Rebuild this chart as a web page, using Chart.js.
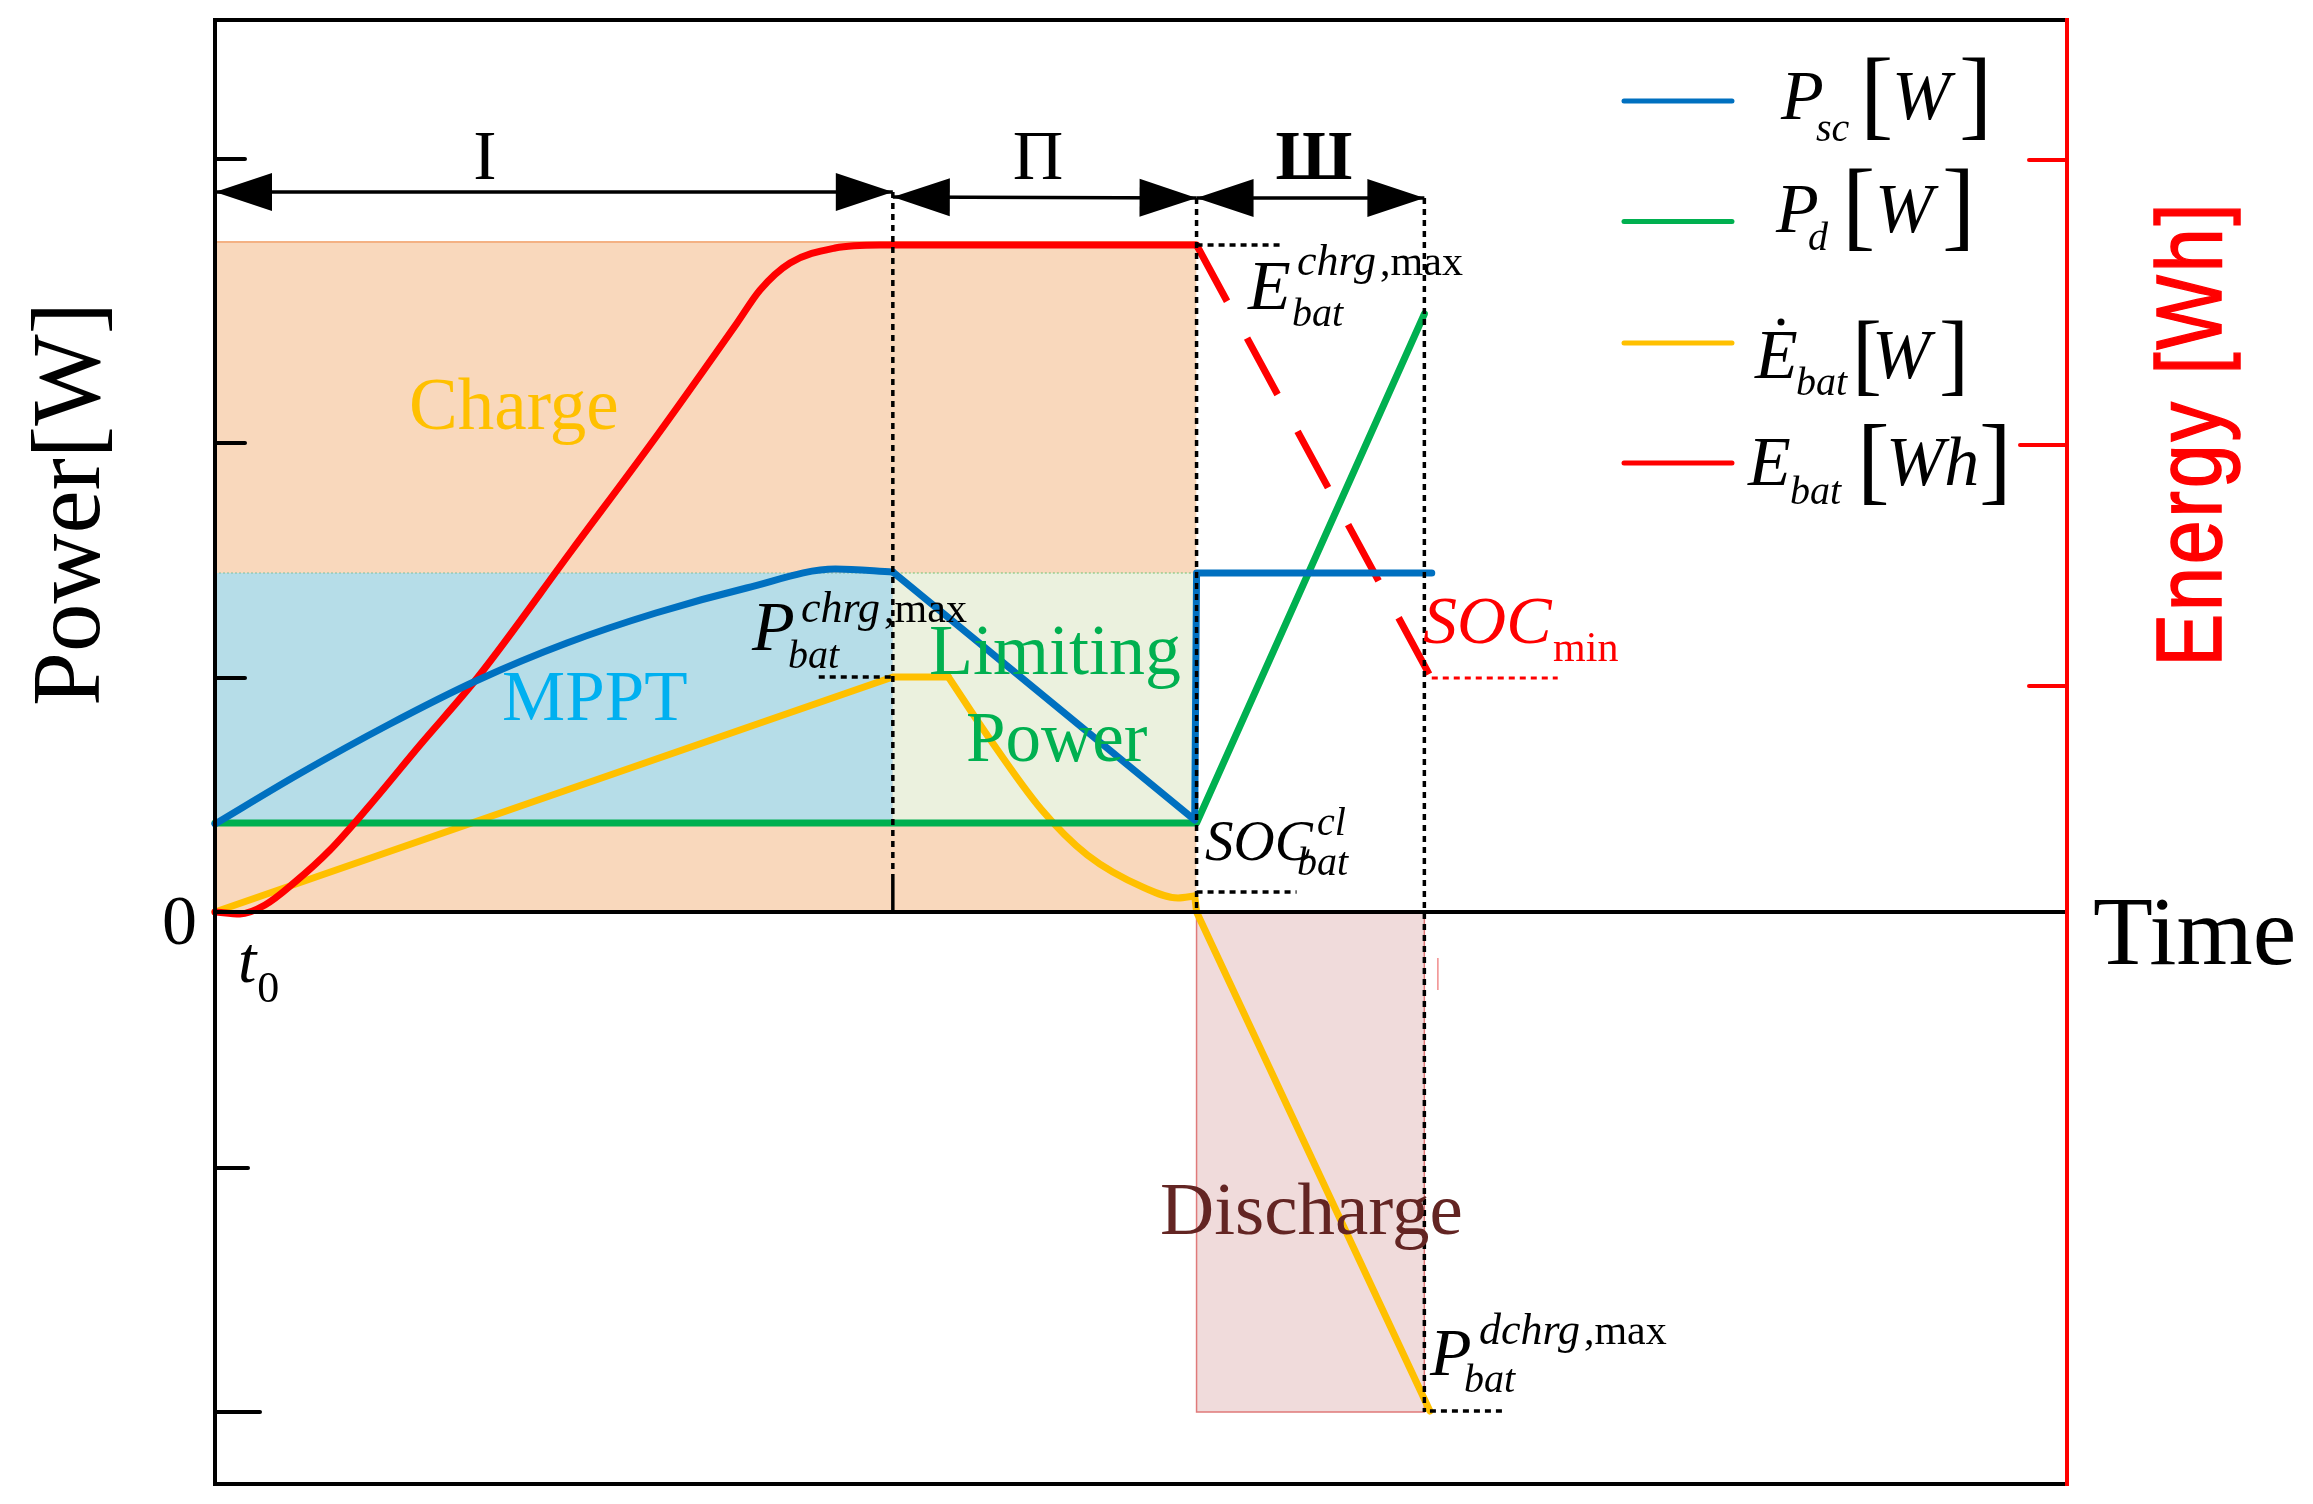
<!DOCTYPE html>
<html>
<head>
<meta charset="utf-8">
<script src="https://cdn.jsdelivr.net/npm/chart.js@4.4.1/dist/chart.umd.min.js"></script>
<style>
  html, body { margin: 0; padding: 0; background: #fff; }
  #wrap { width: 2313px; height: 1504px; }
</style>
</head>
<body>
<div id="wrap"><canvas id="chart" width="2313" height="1504"></canvas></div>
<script>
// time axis in arbitrary units, phase boundaries t0 .. end of III
const phaseEdges = [0, 36.6, 53.0, 65.3];
const phaseNames = ['I', 'Π', 'Ш'];

// E_bat [Wh] charging curve
const ebatX = [0, 1.35, 2.7, 4.32, 6.21, 8.37, 11.07, 14.2, 19.28, 23.81, 28.19, 29.43, 31.05, 33.48, 35.91, 53.0];
const ebatY = [0, -0.02, 0.07, 0.30, 0.62, 1.07, 1.67, 2.35, 3.62, 4.75, 5.89, 6.22, 6.49, 6.64, 6.67, 6.67];
// E_bat discharging (dashed)
const ebatDisX = [53.0, 65.7];
const ebatDisY = [6.67, 2.33];

// P_sc [W]
const pscCurveX = [0, 4.54, 9.34, 14.2, 19.0, 23.8, 28.7, 33.5, 36.6];
const pscCurveY = [0.88, 1.38, 1.87, 2.32, 2.69, 2.99, 3.24, 3.43, 3.40];
const pscLineX = [36.6, 52.9, 53.0, 65.7];
const pscLineY = [3.40, 0.92, 3.39, 3.39];

// P_d [W]
const pdX = [0, 53.0, 65.3];
const pdY = [0.89, 0.89, 5.98];

// dE_bat/dt [W]
const edotX1 = [0, 36.6, 39.6];
const edotY1 = [0, 2.35, 2.35];
const edotX2 = [39.6, 41.8, 44.6, 47.1, 50.2, 52.0, 52.9];
const edotY2 = [2.35, 1.74, 1.03, 0.57, 0.24, 0.14, 0.16];
const edotX3 = [52.9, 53.0, 65.6];
const edotY3 = [0.16, 0, -4.99];

// shaded regions
const chargeTop = 6.70;
const mpptBand = [0.89, 3.39];
const dischargeBottom = -5.0;

// axis ticks (unlabelled except 0)
const leftTicks = [7.53, 4.69, 2.34, 0, -2.56, -5.0];
const leftTickLen = [30, 30, 30, 0, 33, 45];
const rightTicks = [7.52, 4.67, 2.26];

const C = { blue: '#0070c0', green: '#00b050', yellow: '#ffc000', red: '#ff0000' };
const SERIF = '"Liberation Serif", "Times New Roman", serif';

const pts = (xs, ys) => xs.map((v, i) => ({ x: v, y: ys[i] }));

function lineDs(label, xs, ys, color, extra = {}) {
  return Object.assign({
    label, data: pts(xs, ys), borderColor: color, borderWidth: 7,
    pointRadius: 0, fill: false, tension: 0, clip: false, order: 1,
    borderCapStyle: 'round', borderJoinStyle: 'round'
  }, extra);
}

const datasets = [
  // regions
  { data: pts([phaseEdges[0], phaseEdges[2]], [chargeTop, chargeTop]), fill: 'origin',
    backgroundColor: '#f9d8bc', borderColor: '#f4b183', borderWidth: 2, pointRadius: 0, order: 20 },
  { data: pts([phaseEdges[0], phaseEdges[1]], [mpptBand[1], mpptBand[1]]), fill: { value: mpptBand[0] },
    backgroundColor: '#b6dde8', borderColor: '#7fbf9f', borderWidth: 1, borderDash: [2, 2], pointRadius: 0, order: 19 },
  { data: pts([phaseEdges[1], phaseEdges[2]], [mpptBand[1], mpptBand[1]]), fill: { value: mpptBand[0] },
    backgroundColor: '#ebf1de', borderColor: '#70c070', borderWidth: 1, borderDash: [2, 2], pointRadius: 0, order: 18 },
  { data: pts([phaseEdges[2], phaseEdges[2], phaseEdges[3], phaseEdges[3]], [0, dischargeBottom, dischargeBottom, 0]),
    fill: 'origin', backgroundColor: '#f0dbdb', borderColor: '#e07a7a', borderWidth: 1.5, pointRadius: 0, order: 17 },
  // series
  lineDs('E_bat', ebatX, ebatY, C.red, { cubicInterpolationMode: 'monotone', order: 2 }),
  lineDs('E_bat dis', ebatDisX, ebatDisY, C.red, { borderDash: [64, 42], borderCapStyle: 'butt', order: 2 }),
  lineDs('P_d', pdX, pdY, C.green, { order: 3 }),
  lineDs('Edot1', edotX1, edotY1, C.yellow, { order: 4 }),
  lineDs('Edot2', edotX2, edotY2, C.yellow, { cubicInterpolationMode: 'monotone', order: 4 }),
  lineDs('Edot3', edotX3, edotY3, C.yellow, { order: 4 }),
  lineDs('P_sc1', pscCurveX, pscCurveY, C.blue, { cubicInterpolationMode: 'monotone', order: 1 }),
  lineDs('P_sc2', pscLineX, pscLineY, C.blue, { order: 1 })
];

function txt(ctx, s, x, y, size, o = {}) {
  ctx.save();
  ctx.font = (o.italic ? 'italic ' : '') + (o.bold ? 'bold ' : '') + size + 'px ' + (o.font || SERIF);
  ctx.fillStyle = o.color || '#000';
  ctx.textAlign = o.align || 'left';
  ctx.textBaseline = 'alphabetic';
  ctx.fillText(s, x, y);
  const w = ctx.measureText(s).width;
  ctx.restore();
  return w;
}

// base symbol with sub/superscript; offsets are measured from the symbol's left edge
function mathLabel(ctx, x, y, m) {
  const color = m.color || '#000';
  txt(ctx, m.base, x, y, m.fs, { italic: true, color });
  if (m.sub) txt(ctx, m.sub, x + m.subX, y + m.subDy, m.subFs, { italic: !m.subUpright, color });
  if (m.sup) {
    const ws = txt(ctx, m.sup, x + m.supX, y + m.supDy, m.supFs, { italic: true, color });
    if (m.tail) txt(ctx, m.tail, x + m.supX + ws + 4, y + m.supDy, m.tailFs, { color });
  }
}

function dotted(ctx, x1, y1, x2, y2, color = '#000', w = 3.5, dash = [6, 5]) {
  ctx.save();
  ctx.strokeStyle = color; ctx.lineWidth = w; ctx.setLineDash(dash);
  ctx.beginPath(); ctx.moveTo(x1, y1); ctx.lineTo(x2, y2); ctx.stroke();
  ctx.restore();
}

function dblArrow(ctx, x1, y1, x2, y2) {
  const len = 57, hw = 19;
  const ang = Math.atan2(y2 - y1, x2 - x1);
  ctx.save();
  ctx.strokeStyle = '#000'; ctx.fillStyle = '#000'; ctx.lineWidth = 3.5;
  ctx.beginPath(); ctx.moveTo(x1, y1); ctx.lineTo(x2, y2); ctx.stroke();
  [[x1, y1, ang + Math.PI], [x2, y2, ang]].forEach(([tx, ty, a]) => {
    ctx.beginPath();
    ctx.moveTo(tx, ty);
    ctx.lineTo(tx - len * Math.cos(a) - hw * Math.sin(a), ty - len * Math.sin(a) + hw * Math.cos(a));
    ctx.lineTo(tx - len * Math.cos(a) + hw * Math.sin(a), ty - len * Math.sin(a) - hw * Math.cos(a));
    ctx.closePath(); ctx.fill();
  });
  ctx.restore();
}

const legendItems = [
  { y: 8.11, color: C.blue, parts: [['P', 157, 18, 70, 1], ['sc', 192, 40, 40, 1], ['[', 236, 26, 100, 0], ['W', 268, 18, 70, 1], [']', 335, 26, 100, 0]] },
  { y: 6.905, color: C.green, parts: [['P', 152, 10.5, 70, 1], ['d', 184, 28.5, 40, 1], ['[', 218, 16.5, 100, 0], ['W', 251, 10.5, 70, 1], [']', 318, 16.5, 100, 0]] },
  { y: 5.69, color: C.yellow, dot: [157, -21], parts: [['E', 131, 35, 70, 1], ['bat', 172, 52, 40, 1], ['[', 228, 41, 90, 0], ['W', 248, 35, 70, 1], [']', 315, 41, 90, 0]] },
  { y: 4.49, color: C.red, parts: [['E', 124, 22, 70, 1], ['bat', 166, 41, 40, 1], ['[', 233, 29, 98, 0], ['Wh', 262, 22, 70, 1], [']', 355, 29, 98, 0]] }
];
const legendX = [76.08, 81.91];

const overlay = {
  id: 'overlay',
  afterDatasetsDraw(chart) {
    const { ctx, chartArea: a, scales: { x, y } } = chart;
    const X = v => x.getPixelForValue(v), Y = v => y.getPixelForValue(v);
    ctx.save();

    // frame
    ctx.lineCap = 'square';
    ctx.strokeStyle = '#000'; ctx.lineWidth = 4;
    ctx.beginPath();
    ctx.moveTo(a.right, a.top); ctx.lineTo(a.left, a.top); ctx.lineTo(a.left, a.bottom); ctx.lineTo(a.right, a.bottom);
    ctx.stroke();
    ctx.beginPath(); ctx.moveTo(a.left, Y(0)); ctx.lineTo(a.right, Y(0)); ctx.stroke();
    ctx.strokeStyle = C.red; ctx.lineWidth = 4;
    ctx.beginPath(); ctx.moveTo(a.right, a.top); ctx.lineTo(a.right, a.bottom); ctx.stroke();

    // ticks
    ctx.lineCap = 'round';
    ctx.strokeStyle = '#000'; ctx.lineWidth = 4;
    leftTicks.forEach((t, i) => {
      if (!leftTickLen[i]) return;
      ctx.beginPath(); ctx.moveTo(a.left, Y(t)); ctx.lineTo(a.left + leftTickLen[i], Y(t)); ctx.stroke();
    });
    ctx.strokeStyle = C.red;
    rightTicks.forEach((t, i) => {
      const l = i === 1 ? 47 : 38;
      ctx.beginPath(); ctx.moveTo(a.right, Y(t)); ctx.lineTo(a.right - l, Y(t)); ctx.stroke();
    });
    ctx.restore();

    // phase guides and arrows
    const arrowY = [7.2, 7.15, 7.14];
    const arrowY2 = [7.2, 7.14, 7.14];
    const nameX = [14.58, 44.44, 59.34];
    for (let i = 0; i < 3; i++) {
      dblArrow(ctx, X(phaseEdges[i]), Y(arrowY[i]), X(phaseEdges[i + 1]), Y(arrowY2[i]));
      txt(ctx, phaseNames[i], X(nameX[i]), Y(7.33), 70, { align: 'center', bold: i === 2 });
    }
    dotted(ctx, X(phaseEdges[1]), Y(7.2), X(phaseEdges[1]), Y(0.32));
    ctx.save(); ctx.strokeStyle = '#000'; ctx.lineWidth = 3.5;
    ctx.beginPath(); ctx.moveTo(X(phaseEdges[1]), Y(0.32)); ctx.lineTo(X(phaseEdges[1]), Y(0)); ctx.stroke(); ctx.restore();
    dotted(ctx, X(phaseEdges[2]), Y(7.14), X(phaseEdges[2]), Y(0));
    dotted(ctx, X(phaseEdges[3]), Y(7.14), X(phaseEdges[3]), Y(dischargeBottom));

    // short level markers
    dotted(ctx, X(53.0), Y(6.67), X(57.6), Y(6.67));
    dotted(ctx, X(32.6), Y(2.35), X(36.6), Y(2.35));
    dotted(ctx, X(53.0), Y(0.2), X(58.4), Y(0.2));
    dotted(ctx, X(65.6), Y(-4.99), X(69.6), Y(-4.99));
    dotted(ctx, X(65.7), Y(2.34), X(72.5), Y(2.34), C.red, 3, [6, 5]);
    // small red mark below the axis
    ctx.save(); ctx.strokeStyle = '#f08c8c'; ctx.lineWidth = 1.5;
    ctx.beginPath(); ctx.moveTo(X(66.03), Y(-0.46)); ctx.lineTo(X(66.03), Y(-0.78)); ctx.stroke(); ctx.restore();

    // region labels
    txt(ctx, 'Charge', X(10.48), Y(4.83), 73, { color: '#ffc000' });
    txt(ctx, 'MPPT', X(15.5), Y(1.92), 71, { color: '#00b0f0' });
    txt(ctx, 'Limiting', X(38.55), Y(2.38), 72, { color: '#00b050' });
    txt(ctx, 'Power', X(40.55), Y(1.51), 71, { color: '#00b050' });
    txt(ctx, 'Discharge', X(51.03), Y(-3.22), 75, { color: '#632523' });

    // math annotations
    mathLabel(ctx, X(29.0), Y(2.62), { base: 'P', fs: 70, sub: 'bat', subFs: 40, subX: 36, subDy: 18,
      sup: 'chrg', supFs: 44, supX: 49, supDy: -28, tail: ',max', tailFs: 42 });
    mathLabel(ctx, X(55.78), Y(6.03), { base: 'E', fs: 70, sub: 'bat', subFs: 40, subX: 44, subDy: 17,
      sup: 'chrg', supFs: 44, supX: 49, supDy: -34, tail: ',max', tailFs: 42 });
    mathLabel(ctx, X(65.6), Y(-4.63), { base: 'P', fs: 68, sub: 'bat', subFs: 40, subX: 34, subDy: 17,
      sup: 'dchrg', supFs: 44, supX: 49, supDy: -31, tail: ',max', tailFs: 42 });
    mathLabel(ctx, X(53.46), Y(0.52), { base: 'SOC', fs: 57, sub: 'bat', subFs: 40, subX: 92, subDy: 15,
      sup: 'cl', supFs: 40, supX: 112, supDy: -25 });
    mathLabel(ctx, X(65.23), Y(2.69), { base: 'SOC', fs: 68, color: C.red, sub: 'min', subUpright: true,
      subFs: 42, subX: 130, subDy: 18 });

    // axis texts
    txt(ctx, '0', a.left - 18, Y(-0.32), 70, { align: 'right' });
    const wt = txt(ctx, 't', X(1.24), Y(-0.70), 66, { italic: true });
    txt(ctx, '0', X(1.24) + wt + 1, Y(-0.70) + 20, 44);
    txt(ctx, 'Time', X(101.4), Y(-0.52), 98);

    ctx.save();
    ctx.translate(a.left - 116, Y(4.08));
    ctx.rotate(-Math.PI / 2);
    txt(ctx, 'Power[W]', 0, 0, 97, { align: 'center' });
    ctx.restore();

    // right axis title, narrow glyphs with wide spacing
    const title = 'Energy [Wh]';
    const L = 463, k = 0.85, fsE = 93;
    ctx.save();
    ctx.font = fsE + 'px "Liberation Sans", Arial, sans-serif';
    const ws = [...title].map(ch => ctx.measureText(ch).width);
    const gap = (L - k * ws.reduce((s, v) => s + v, 0)) / (title.length - 1);
    ctx.translate(a.right + 154, Y(4.77) + L / 2);
    ctx.rotate(-Math.PI / 2);
    ctx.fillStyle = C.red;
    ctx.strokeStyle = C.red; ctx.lineWidth = 1.5;
    let pos = 0;
    [...title].forEach((ch, i) => {
      ctx.save(); ctx.translate(pos, 0); ctx.scale(k, 1);
      ctx.fillText(ch, 0, 0); ctx.strokeText(ch, 0, 0);
      ctx.restore();
      pos += k * ws[i] + gap;
    });
    ctx.restore();

    // legend
    legendItems.forEach(it => {
      const x0 = X(legendX[0]), yl = Y(it.y);
      ctx.save(); ctx.strokeStyle = it.color; ctx.lineWidth = 5; ctx.lineCap = 'round';
      ctx.beginPath(); ctx.moveTo(x0, yl); ctx.lineTo(X(legendX[1]), yl); ctx.stroke(); ctx.restore();
      it.parts.forEach(([s, dx, dy, fs, it2]) => txt(ctx, s, x0 + dx, yl + dy, fs, { italic: !!it2 }));
      if (it.dot) {
        ctx.save(); ctx.fillStyle = '#000';
        ctx.beginPath(); ctx.arc(x0 + it.dot[0], yl + it.dot[1], 3.5, 0, Math.PI * 2); ctx.fill(); ctx.restore();
      }
    });
  }
};

new Chart(document.getElementById('chart').getContext('2d'), {
  type: 'line',
  data: { datasets },
  options: {
    responsive: false,
    animation: false,
    devicePixelRatio: 1,
    layout: { padding: { left: 215, right: 246, top: 20, bottom: 20 } },
    plugins: { legend: { display: false }, tooltip: { enabled: false } },
    scales: {
      x: { type: 'linear', min: 0, max: 100, display: false },
      y: { type: 'linear', min: -5.72, max: 8.92, display: false }
    }
  },
  plugins: [overlay]
});
</script>
</body>
</html>
